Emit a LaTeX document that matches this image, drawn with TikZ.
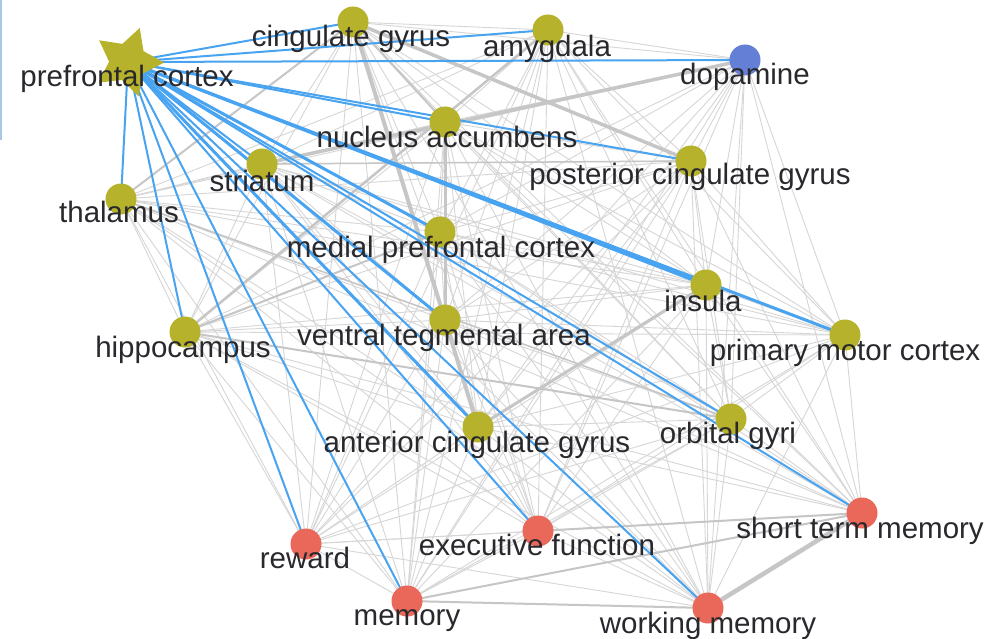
\documentclass[tikz,border=0pt]{standalone}
\usepackage{fontspec}
\setmainfont{Liberation Sans}
\usetikzlibrary{shapes.geometric}
\definecolor{ycol}{RGB}{183,178,43}
\definecolor{bcol}{RGB}{100,127,214}
\definecolor{rcol}{RGB}{234,104,89}
\definecolor{ecol}{RGB}{72,163,240}
\definecolor{gcol}{RGB}{214,214,214}
\definecolor{gdark}{RGB}{198,198,198}
\definecolor{tcol}{RGB}{40,40,45}
\definecolor{sidecol}{RGB}{170,200,230}
\pgfdeclarelayer{bg}
\pgfdeclarelayer{edges}
\pgfdeclarelayer{labels}
\pgfsetlayers{bg,edges,main,labels}
\tikzset{
  dotY/.style={circle, fill=ycol, minimum size=31pt, inner sep=0pt},
  dotB/.style={circle, fill=bcol, minimum size=31pt, inner sep=0pt},
  dotR/.style={circle, fill=rcol, minimum size=31pt, inner sep=0pt},
  starnode/.style={star, star points=5, star point ratio=1.9, fill=ycol, minimum size=72pt, inner sep=0pt, rotate=-19},
  lab/.style={anchor=base, text=tcol, font=\fontsize{29.5}{34}\selectfont, inner sep=0pt},
  thin gray/.style={draw=gcol, line width=0.9pt},
  heavy gray/.style={draw=gdark, line width=#1},
  blue edge/.style={draw=ecol, line width=#1},
}
\begin{document}
\begin{tikzpicture}[x=1pt,y=-1pt]
\useasboundingbox (0,0) rectangle (999,639);
\begin{pgfonlayer}{bg}
\fill[white] (0,0) rectangle (999,639);
\fill[sidecol] (0,0) rectangle (2,140);
\end{pgfonlayer}
% nodes
\node[starnode] (pfc) at (128,62) {};
\node[dotY] (cg) at (353,22) {};
\node[dotY] (amy) at (548,30) {};
\node[dotB] (dop) at (745,60) {};
\node[dotY] (na) at (445,122) {};
\node[dotY] (str) at (262,164) {};
\node[dotY] (pcg) at (691,161) {};
\node[dotY] (thal) at (121,199) {};
\node[dotY] (mpfc) at (440,232) {};
\node[dotY] (ins) at (706,285) {};
\node[dotY] (pmc) at (845,335) {};
\node[dotY] (hip) at (185,332) {};
\node[dotY] (vta) at (445,320) {};
\node[dotY] (acg) at (478,427) {};
\node[dotY] (og) at (731,419) {};
\node[dotR] (stm) at (862,513) {};
\node[dotR] (rew) at (306,544) {};
\node[dotR] (ef) at (538,531) {};
\node[dotR] (mem) at (407,601) {};
\node[dotR] (wm) at (708,608) {};
% edges
\begin{pgfonlayer}{edges}
\foreach \a [count=\i] in {cg,amy,dop,na,str,pcg,thal,mpfc,ins,pmc,hip,vta,acg,og,stm,rew,ef,mem,wm}{
  \foreach \b [count=\j] in {cg,amy,dop,na,str,pcg,thal,mpfc,ins,pmc,hip,vta,acg,og,stm,rew,ef,mem,wm}{
    \ifnum\j>\i \draw[thin gray] (\a.center) -- (\b.center); \fi
  }
}
\draw[heavy gray=4pt] (cg.center) -- (acg.center);
\draw[heavy gray=3pt] (na.center) -- (vta.center);
\draw[heavy gray=3.5pt] (cg.center) -- (pcg.center);
\draw[heavy gray=3.5pt] (dop.center) -- (str.center);
\draw[heavy gray=4.5pt] (stm.center) -- (wm.center);
\draw[heavy gray=3pt] (acg.center) -- (ins.center);
\draw[heavy gray=2.5pt] (amy.center) -- (hip.center);
\draw[heavy gray=2pt] (hip.center) -- (og.center);
\draw[heavy gray=2pt] (mem.center) -- (stm.center);
\draw[heavy gray=2pt] (mem.center) -- (wm.center);
\draw[heavy gray=2pt] (ef.center) -- (stm.center);
\draw[heavy gray=2pt] (cg.center) -- (na.center);
\draw[heavy gray=2pt] (thal.center) -- (cg.center);
\draw[heavy gray=2pt] (hip.center) -- (mpfc.center);
\draw[heavy gray=1.5pt] (str.center) -- (pcg.center);
\draw[heavy gray=1.5pt] (thal.center) -- (og.center);
% blue edges from prefrontal cortex
\foreach \b in {cg,amy,dop,na,str,pcg,thal,hip,og,stm,rew,ef,mem,wm}{
  \draw[blue edge=2pt] (pfc.center) -- (\b.center);
}
\foreach \b in {mpfc,vta,ins,pmc,acg}{
  \draw[blue edge=3pt] (pfc.center) -- (\b.center);
}
\end{pgfonlayer}
% labels
\begin{pgfonlayer}{labels}
\node[lab] (pfc-l) at (127,87) {prefrontal cortex};
\node[lab] (cg-l) at (351,47) {cingulate gyrus};
\node[lab] (amy-l) at (547,57) {amygdala};
\node[lab] (dop-l) at (745,85) {dopamine};
\node[lab] (na-l) at (447,148) {nucleus accumbens};
\node[lab] (str-l) at (262,192) {striatum};
\node[lab] (pcg-l) at (690,185) {posterior cingulate gyrus};
\node[lab] (thal-l) at (119,223) {thalamus};
\node[lab] (mpfc-l) at (441,258) {medial prefrontal cortex};
\node[lab] (ins-l) at (703,312) {insula};
\node[lab] (pmc-l) at (845,360) {primary motor cortex};
\node[lab] (hip-l) at (183,357) {hippocampus};
\node[lab] (vta-l) at (444,345) {ventral tegmental area};
\node[lab] (acg-l) at (477,452) {anterior cingulate gyrus};
\node[lab] (og-l) at (728,443) {orbital gyri};
\node[lab] (stm-l) at (860,538) {short term memory};
\node[lab] (rew-l) at (305,568) {reward};
\node[lab] (ef-l) at (537,555) {executive function};
\node[lab] (mem-l) at (407,625) {memory};
\node[lab] (wm-l) at (708,633) {working memory};
\end{pgfonlayer}
\end{tikzpicture}
\end{document}
